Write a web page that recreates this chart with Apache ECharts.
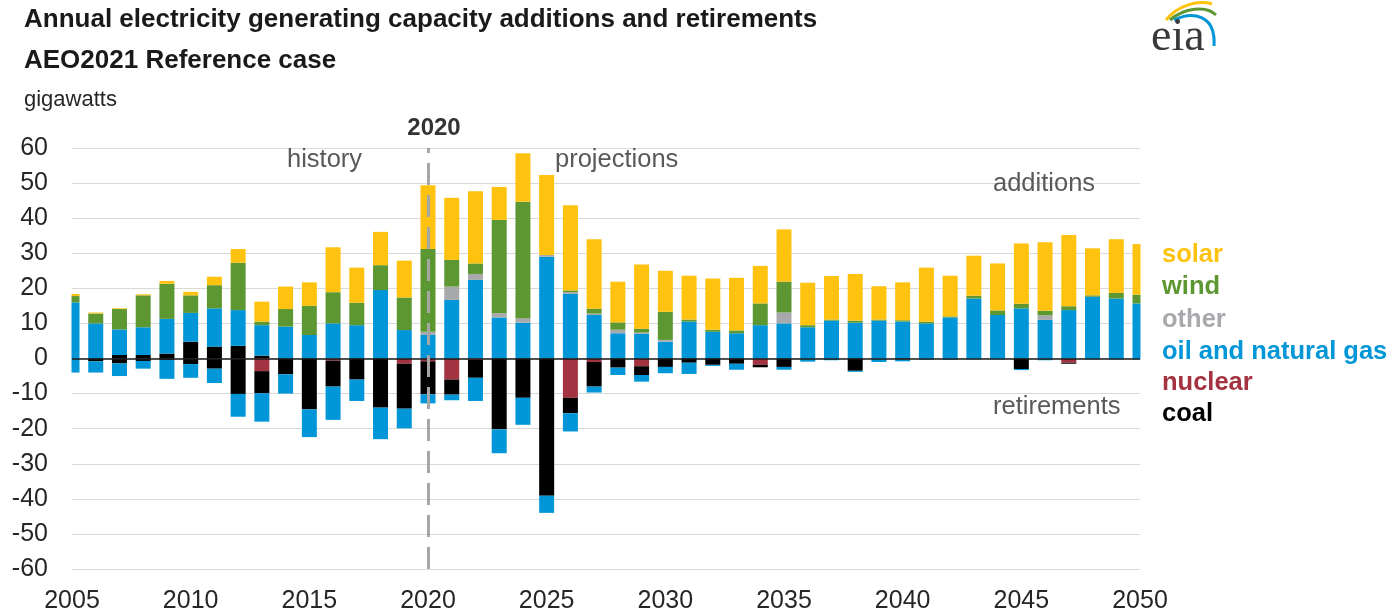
<!DOCTYPE html>
<html>
<head>
<meta charset="utf-8">
<title>Annual electricity generating capacity additions and retirements</title>
<script src="https://cdn.jsdelivr.net/npm/echarts@6/dist/echarts.min.js"></script>
<style>
  html, body { margin: 0; padding: 0; background: #ffffff; }
  #chart { width: 1397px; height: 614px; }
</style>
</head>
<body>
<div id="chart"></div>
<script>
// Years shown on the horizontal axis
const years = ['2005', '2006', '2007', '2008', '2009', '2010', '2011', '2012', '2013', '2014',
               '2015', '2016', '2017', '2018', '2019', '2020', '2021', '2022', '2023', '2024',
               '2025', '2026', '2027', '2028', '2029', '2030', '2031', '2032', '2033', '2034',
               '2035', '2036', '2037', '2038', '2039', '2040', '2041', '2042', '2043', '2044',
               '2045', '2046', '2047', '2048', '2049', '2050'];

// Additions (GW, positive)
const coalAdditions  = [0, 0, 1.0, 1.0, 1.4, 4.8, 3.4, 3.6, 0.8, 0,
                        0, 0, 0, 0, 0, 0, 0, 0, 0, 0,
                        0, 0, 0, 0, 0, 0, 0, 0, 0, 0,
                        0, 0, 0, 0, 0, 0, 0, 0, 0, 0,
                        0, 0, 0, 0, 0, 0];
const gasAdditions   = [16.0, 10.0, 7.3, 7.9, 9.9, 8.2, 10.9, 10.2, 8.7, 9.1,
                        6.7, 10.0, 9.5, 19.5, 8.1, 6.7, 16.7, 22.4, 11.7, 10.2,
                        29.0, 18.4, 12.4, 7.2, 7.0, 4.8, 10.5, 7.6, 7.2, 9.5,
                        10.0, 8.9, 10.8, 10.2, 10.8, 10.5, 10.0, 11.7, 17.1, 12.4,
                        14.3, 11.0, 13.8, 17.6, 17.1, 15.7];
const otherAdditions = [0, 0, 0, 0, 0, 0, 0, 0, 0, 0,
                        0, 0, 0, 0, 0, 0.9, 3.8, 1.7, 1.2, 1.3,
                        0.5, 0.5, 0.4, 1.0, 0.4, 0.5, 0, 0, 0, 0,
                        3.1, 0, 0, 0, 0, 0, 0, 0, 0, 0,
                        0, 1.3, 0, 0, 0, 0];
const windAdditions  = [1.8, 2.8, 5.8, 9.1, 10.0, 5.0, 6.6, 13.5, 1.0, 5.0,
                        8.3, 8.9, 6.4, 7.1, 9.3, 23.6, 7.6, 3.0, 26.6, 33.2,
                        0, 0.5, 1.4, 2.1, 1.1, 8.0, 0.6, 0.6, 0.8, 6.2,
                        8.8, 0.6, 0.3, 0.6, 0.3, 0.4, 0.5, 0.3, 0.8, 1.3,
                        1.3, 1.3, 1.1, 0.4, 1.6, 2.5];
const solarAdditions = [0.6, 0.3, 0.2, 0.3, 0.8, 1.0, 2.4, 3.9, 5.7, 6.4,
                        6.7, 12.8, 10.0, 9.5, 10.5, 18.2, 17.7, 20.6, 9.4, 13.8,
                        22.8, 24.3, 19.8, 11.6, 18.3, 11.7, 12.5, 14.6, 15.0, 10.7,
                        14.9, 12.1, 12.4, 13.3, 9.5, 10.8, 15.4, 11.6, 11.4, 13.4,
                        17.2, 19.5, 20.3, 13.4, 15.3, 14.4];

// Retirements (GW, negative)
const nuclearRetirements = [0, 0, 0, 0, 0, 0, 0, 0, -3.6, 0,
                            0, -0.6, 0, 0, -1.5, -0.8, -6.0, -0.4, 0, 0,
                            0, -11.2, -1.0, 0, -2.2, 0, 0, 0, 0, -1.8,
                            0, 0, 0, 0, 0, 0, 0, 0, 0, 0,
                            0, 0, -1.2, 0, 0, 0];
const coalRetirements    = [0, -0.8, -1.4, -0.7, -0.4, -1.6, -2.9, -10.1, -6.3, -4.5,
                            -14.5, -7.4, -6.0, -14.0, -12.8, -9.4, -4.3, -5.1, -20.2, -11.2,
                            -39.1, -4.4, -7.0, -2.6, -2.5, -2.4, -1.2, -1.8, -1.5, -0.7,
                            -2.4, 0, 0, -3.5, 0, -0.3, 0, 0, 0, 0,
                            -3.0, 0, -0.3, 0, 0, 0];
const gasRetirements     = [-4.0, -3.2, -3.6, -2.2, -5.4, -3.9, -4.1, -6.5, -8.1, -5.5,
                            -7.9, -9.5, -6.1, -9.0, -5.6, -2.6, -1.6, -6.6, -6.8, -7.7,
                            -4.9, -5.2, -1.7, -2.1, -1.9, -1.8, -3.2, -0.3, -1.7, 0,
                            -0.8, -0.9, -0.5, -0.3, -1.0, -0.5, -0.4, -0.4, -0.3, -0.3,
                            -0.3, -0.5, 0, -0.3, -0.3, -0.3];

// Y axis ticks
const yMin = -60, yMax = 60, yStep = 10;
const dividerYear = '2020';

const COLORS = {
  solar: '#FFC20E',
  wind: '#5D9732',
  other: '#A7A9AC',
  gas: '#0096D7',
  nuclear: '#A33340',
  coal: '#000000'
};

// Plot rectangle
const GRID = { left: 72, right: 257, top: 148, bottom: 44 };
const W = 1397, H = 614;

function barSeries(name, vals, color) {
  return {
    name: name,
    type: 'bar',
    stack: 'capacity',
    barWidth: 15,
    clip: true,
    itemStyle: { color: color },
    emphasis: { disabled: true },
    data: vals
  };
}

const series = [
  barSeries('coal additions', coalAdditions, COLORS.coal),
  barSeries('oil and natural gas additions', gasAdditions, COLORS.gas),
  barSeries('other additions', otherAdditions, COLORS.other),
  barSeries('wind additions', windAdditions, COLORS.wind),
  barSeries('solar additions', solarAdditions, COLORS.solar),
  barSeries('nuclear retirements', nuclearRetirements, COLORS.nuclear),
  barSeries('coal retirements', coalRetirements, COLORS.coal),
  barSeries('oil and natural gas retirements', gasRetirements, COLORS.gas)
];

// History / projections divider and the zero baseline
series[4].markLine = {
  silent: true,
  symbol: 'none',
  label: { show: false },
  z: 10,
  lineStyle: { color: '#A6A6A6', width: 3, type: [22, 10] },
  data: [{ xAxis: dividerYear }]
};
series[7].markLine = {
  silent: true,
  symbol: 'none',
  label: { show: false },
  lineStyle: { color: '#1a1a1a', width: 1.5, type: 'solid' },
  data: [{ yAxis: 0 }]
};

const FONT = '"Liberation Sans", Arial, sans-serif';

function txt(x, y, text, opts) {
  return {
    type: 'text',
    x: x, y: y,
    silent: true,
    z: 20,
    style: Object.assign({
      text: text,
      font: '25.5px ' + FONT,
      fill: '#595959',
      textAlign: 'left',
      textVerticalAlign: 'middle'
    }, opts || {})
  };
}

const legendItems = [
  ['solar', COLORS.solar, 255],
  ['wind', COLORS.wind, 287],
  ['other', COLORS.other, 320],
  ['oil and natural gas', COLORS.gas, 352],
  ['nuclear', COLORS.nuclear, 383],
  ['coal', COLORS.coal, 414]
];

// White side bands keep the first and last bars cut at the plot edges
const edgeMask = (x, w) => ({
  type: 'rect', silent: true, z: 5,
  shape: { x: x, y: GRID.top - 4, width: w, height: H - GRID.top - GRID.bottom + 8 },
  style: { fill: '#ffffff' }
});

const graphics = [
  edgeMask(GRID.left - 14, 13.5),
  edgeMask(W - GRID.right + 0.5, 14),
  txt(24, 20, 'Annual electricity generating capacity additions and retirements',
      { font: 'bold 26px ' + FONT, fill: '#1a1a1a' }),
  txt(24, 61, 'AEO2021 Reference case', { font: 'bold 26px ' + FONT, fill: '#1a1a1a' }),
  txt(24, 100, 'gigawatts', { font: '22px ' + FONT, fill: '#262626' }),
  txt(434, 128, '2020', { font: 'bold 24px ' + FONT, fill: '#333333', textAlign: 'center' }),
  txt(287, 160, 'history'),
  txt(555, 160, 'projections'),
  txt(993, 184, 'additions'),
  txt(993, 407, 'retirements'),
  // agency mark
  {
    type: 'bezierCurve', silent: true,
    shape: { x1: 1166, y1: 20, cpx1: 1178, cpy1: 5, cpx2: 1198, cpy2: 0, x2: 1212, y2: 4 },
    style: { stroke: COLORS.solar, lineWidth: 3, fill: null }
  },
  {
    type: 'bezierCurve', silent: true,
    shape: { x1: 1170, y1: 20, cpx1: 1184, cpy1: 8, cpx2: 1206, cpy2: 5, x2: 1216, y2: 15 },
    style: { stroke: COLORS.wind, lineWidth: 3, fill: null }
  },
  {
    type: 'bezierCurve', silent: true,
    shape: { x1: 1174, y1: 20, cpx1: 1192, cpy1: 11, cpx2: 1216, cpy2: 14, x2: 1214, y2: 46 },
    style: { stroke: COLORS.gas, lineWidth: 3, fill: null }
  },
  txt(1151, 38, 'eia', { font: '46px "Liberation Serif", "DejaVu Serif", serif', fill: '#3a3a3a' })
];
legendItems.forEach(([label, color, y]) => {
  graphics.push(txt(1162, y, label, { font: 'bold 25.5px ' + FONT, fill: color }));
});

const chart = echarts.init(document.getElementById('chart'), null, { renderer: 'canvas' });
chart.setOption({
  animation: false,
  backgroundColor: '#ffffff',
  grid: Object.assign({ containLabel: false }, GRID),
  xAxis: {
    type: 'category',
    data: years,
    boundaryGap: false,
    axisLine: { show: false, onZero: false },
    axisTick: { show: false },
    splitLine: { show: false },
    axisLabel: {
      interval: 4,
      margin: 20,
      fontFamily: FONT,
      fontSize: 25,
      color: '#262626'
    }
  },
  yAxis: {
    type: 'value',
    min: yMin, max: yMax, interval: yStep,
    axisLine: { show: false },
    axisTick: { show: false },
    splitLine: { lineStyle: { color: '#D9D9D9', width: 1 } },
    axisLabel: {
      margin: 24,
      fontFamily: FONT,
      fontSize: 25,
      color: '#262626'
    }
  },
  series: series,
  graphic: graphics
});
</script>
</body>
</html>
